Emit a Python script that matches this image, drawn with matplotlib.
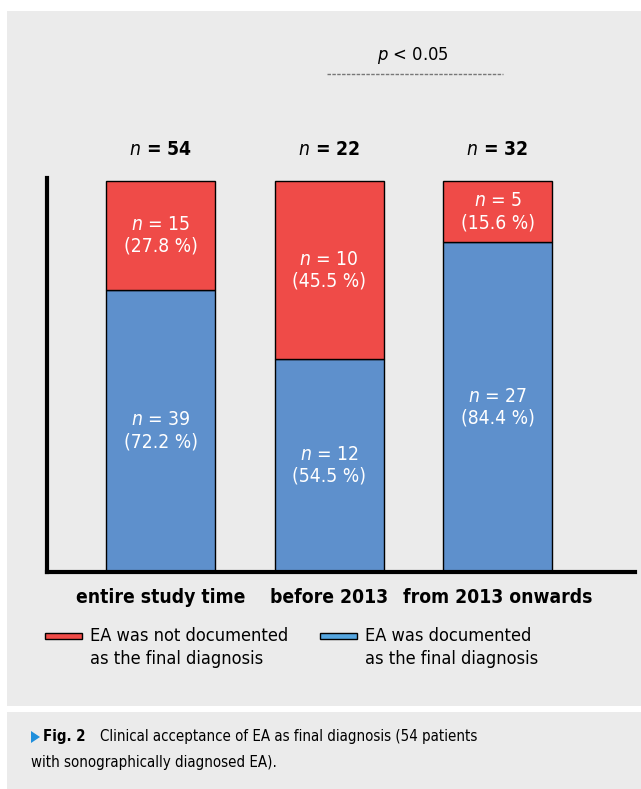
import matplotlib.pyplot as plt
from matplotlib.patches import Rectangle, Polygon
from matplotlib import font_manager
import numpy as np

# etsitään kapea fontti, muuten Open Sans
kapea = "Open Sans"
venytys = "normal"
for fam, st in (("Liberation Sans Narrow", "normal"), ("Open Sans", "condensed"),
                ("Noto Sans", "condensed"), ("Roboto", "condensed"), ("DejaVu Sans", "condensed")):
    try:
        f = font_manager.findfont(font_manager.FontProperties(family=fam, stretch=st),
                                  fallback_to_default=False)
        if "ondensed" in f or "arrow" in f:
            kapea, venytys = fam, st
            break
    except Exception:
        pass

plt.rcParams['font.family'] = [kapea, 'DejaVu Sans']
plt.rcParams['font.stretch'] = venytys
plt.rcParams['mathtext.fontset'] = 'custom'
plt.rcParams['mathtext.it'] = kapea + ':italic'
plt.rcParams['mathtext.rm'] = kapea
plt.rcParams['mathtext.bf'] = kapea + ':bold'

# data
kategoriat = ["entire study time", "before 2013", "from 2013 onwards"]
n_yht = [54, 22, 32]
n_ei = [15, 10, 5]
n_kylla = [39, 12, 27]
pros_ei = [27.8, 45.5, 15.6]
pros_kylla = [72.2, 54.5, 84.4]
selitteet = ["EA was not documented\nas the final diagnosis",
             "EA was documented\nas the final diagnosis"]
punainen = "#ef4b48"
sininen = "#5e90cc"
harmaa = "#ebebeb"

W, H = 641, 789
fig = plt.figure(figsize=(W/100, H/100), dpi=100)
fig.patch.set_facecolor("white")
rend = fig.canvas.get_renderer()

def sovita(t, leveys):
    # skaalataan fonttikoko niin että tekstin leveys on annettu (px)
    w = t.get_window_extent(rend).width
    t.set_fontsize(t.get_fontsize() * leveys / w)
    return t.get_fontsize()

# harmaat paneelit
fig.add_artist(Rectangle((7/W, 1-706/H), 634/W, 695/H, transform=fig.transFigure,
                         facecolor=harmaa, edgecolor="none", zorder=-10))
fig.add_artist(Rectangle((7/W, 0), 634/W, 1-712/H, transform=fig.transFigure,
                         facecolor=harmaa, edgecolor="none", zorder=-10))

ax = fig.add_axes([47/W, 1-572/H, 588/W, 394/H])
ax.set_facecolor("none")
x = np.arange(len(kategoriat))
lev = 0.647
ax.bar(x, pros_kylla, lev, color=sininen, edgecolor="black", linewidth=1)
ax.bar(x, pros_ei, lev, bottom=pros_kylla, color=punainen, edgecolor="black", linewidth=1)
ax.set_xlim(-0.674, 2.816)
ax.set_ylim(0, 100.8)
for s in ("top", "right"):
    ax.spines[s].set_visible(False)
ax.spines["left"].set_linewidth(3)
ax.spines["bottom"].set_linewidth(3)
ax.set_yticks([])
ax.set_xticks(x)
ax.tick_params(axis="x", length=0, pad=10)
ax.set_xticklabels([])

# kategoriat
koko = None
for i in range(len(x)):
    t = ax.text(x[i], -6.5, kategoriat[i], ha="center", va="center", fontsize=14, fontweight="semibold")
    if i == 0:
        koko = sovita(t, 170)
    else:
        t.set_fontsize(koko)

kb = None
for i in range(len(x)):
    t1 = ax.text(x[i], pros_kylla[i] + pros_ei[i]/2, "$\\it{n}$ = %i\n(%.1f %%)" % (n_ei[i], pros_ei[i]),
                 ha="center", va="center", color="white", fontsize=15, linespacing=1.2)
    t2 = ax.text(x[i], pros_kylla[i]/2, "$\\it{n}$ = %i\n(%.1f %%)" % (n_kylla[i], pros_kylla[i]),
                 ha="center", va="center", color="white", fontsize=15, linespacing=1.2)
    if i == 0:
        kb = sovita(t1, 74)
    t1.set_fontsize(kb)
    t2.set_fontsize(kb)
    ax.text(x[i], 108, "$\\mathbf{\\it{n}}$ = %i" % n_yht[i], ha="center", va="center",
            fontsize=kb, fontweight="semibold")

# p-arvo
tp = fig.text(413/W, 1-55/H, "$\\it{p}$ < 0.05", ha="center", va="center", fontsize=14)
sovita(tp, 72)
fig.add_artist(plt.Line2D([327/W, 503/W], [1-74/H, 1-74/H], transform=fig.transFigure,
                          color="#777777", linestyle=(0, (2.5, 1)), linewidth=1))

# selitteet
tt = fig.text(0, 0, "EA was not documented", fontsize=14)
sk = sovita(tt, 200)
tt.remove()
for xp, teksti, vari in ((45, selitteet[0], punainen), (320, selitteet[1], "#55a6e0")):
    fig.add_artist(Rectangle((xp/W, 1-639/H), 37/W, 6/H, transform=fig.transFigure,
                             facecolor=vari, edgecolor="black", linewidth=1))
    fig.text((xp+45)/W, 1-627/H, teksti, ha="left", va="top", fontsize=sk, linespacing=1.35)

# kuvateksti
fig.add_artist(Polygon([[31/W, 1-731/H], [31/W, 1-743/H], [40/W, 1-737/H]], closed=True,
                       transform=fig.transFigure, facecolor="#1f8fdc", edgecolor="none"))
c1 = fig.text(43/W, 1-737/H, "Fig. 2", ha="left", va="center", fontsize=12, fontweight="bold")
sovita(c1, 42)
c2 = fig.text(100/W, 1-737/H, "Clinical acceptance of EA as final diagnosis (54 patients",
              ha="left", va="center", fontsize=12)
ck = sovita(c2, 378)
fig.text(31/W, 1-763/H, "with sonographically diagnosed EA).", ha="left", va="center", fontsize=ck)

fig.savefig("out.png", dpi=100)
